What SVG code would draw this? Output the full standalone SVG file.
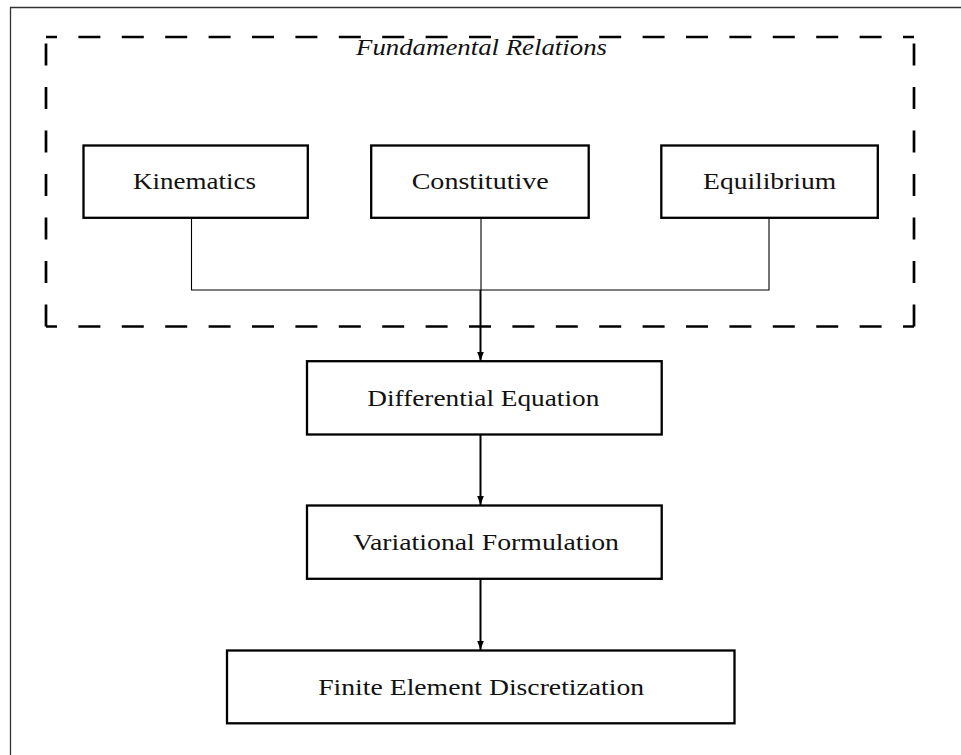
<svg xmlns="http://www.w3.org/2000/svg" width="961" height="755" viewBox="0 0 961 755">
  <style>
    .frame { fill: none; stroke: #333; stroke-width: 1.3; }
    .group { fill: none; stroke: #000; stroke-width: 2.7; }
    .box { fill: #fff; stroke: #000; stroke-width: 2.3; }
    .label { font-family: "Liberation Serif", "Times New Roman", serif; font-size: 24px; fill: #111; text-anchor: middle; }
    .title { font-style: italic; }
    .join { fill: none; stroke: #000; stroke-width: 1.1; }
    .flow { fill: none; stroke: #000; stroke-width: 2; marker-end: url(#head); }
  </style>
  <defs>
    <marker id="head" markerUnits="userSpaceOnUse" markerWidth="10" markerHeight="10" viewBox="0 0 10 10" refX="9" refY="5" orient="auto">
      <path d="M0 1.7 L9 5 L0 8.3 Z" fill="#000"/>
    </marker>
  </defs>
  <rect width="961" height="755" fill="#fff"/>

  <!-- page frame -->
  <path class="frame" d="M10.5 755 V7.5 H961"/>

  <!-- dashed grouping frame -->
  <g id="fundamental-relations">
    <text class="label title" x="481.5" y="54.5" textLength="251" lengthAdjust="spacingAndGlyphs">Fundamental Relations</text>
    <line class="group" x1="46" y1="37" x2="914" y2="37" stroke-dasharray="22 21.4" stroke-dashoffset="11"/>
    <line class="group" x1="46" y1="326.5" x2="914" y2="326.5" stroke-dasharray="22 21.4" stroke-dashoffset="11"/>
    <line class="group" x1="46" y1="326.5" x2="46" y2="37" stroke-dasharray="22 21.5"/>
    <line class="group" x1="914" y1="326.5" x2="914" y2="37" stroke-dasharray="22 21.5"/>
  </g>

  <g id="kinematics">
    <rect class="box" x="83.5" y="145.5" width="224.3" height="72.3"/>
    <text class="label" x="194.5" y="189.3" textLength="123" lengthAdjust="spacingAndGlyphs">Kinematics</text>
  </g>
  <g id="constitutive">
    <rect class="box" x="371.2" y="145.5" width="217.5" height="72.3"/>
    <text class="label" x="480.2" y="189.3" textLength="137" lengthAdjust="spacingAndGlyphs">Constitutive</text>
  </g>
  <g id="equilibrium">
    <rect class="box" x="661.3" y="145.5" width="216.5" height="72.3"/>
    <text class="label" x="769.6" y="189" textLength="133" lengthAdjust="spacingAndGlyphs">Equilibrium</text>
  </g>
  <g id="differential-equation">
    <rect class="box" x="307" y="361.2" width="354.7" height="73.3"/>
    <text class="label" x="483.3" y="405.7" textLength="232" lengthAdjust="spacingAndGlyphs">Differential Equation</text>
  </g>
  <g id="variational-formulation">
    <rect class="box" x="307" y="505.5" width="354.7" height="73.3"/>
    <text class="label" x="486" y="550" textLength="266" lengthAdjust="spacingAndGlyphs">Variational Formulation</text>
  </g>
  <g id="finite-element-discretization">
    <rect class="box" x="227" y="650.5" width="507.5" height="72.8"/>
    <text class="label" x="481.2" y="695" textLength="326" lengthAdjust="spacingAndGlyphs">Finite Element Discretization</text>
  </g>

  <!-- connectors, drawn last so the heads sit on the box edges -->
  <g id="connectors">
    <path class="join" d="M191.5 218 V290 H769 V218 M481 218 V290"/>
    <line class="flow" x1="480.5" y1="290" x2="480.5" y2="361"/>
    <line class="flow" x1="480.5" y1="435" x2="480.5" y2="505"/>
    <line class="flow" x1="480.5" y1="579" x2="480.5" y2="650"/>
  </g>
</svg>
